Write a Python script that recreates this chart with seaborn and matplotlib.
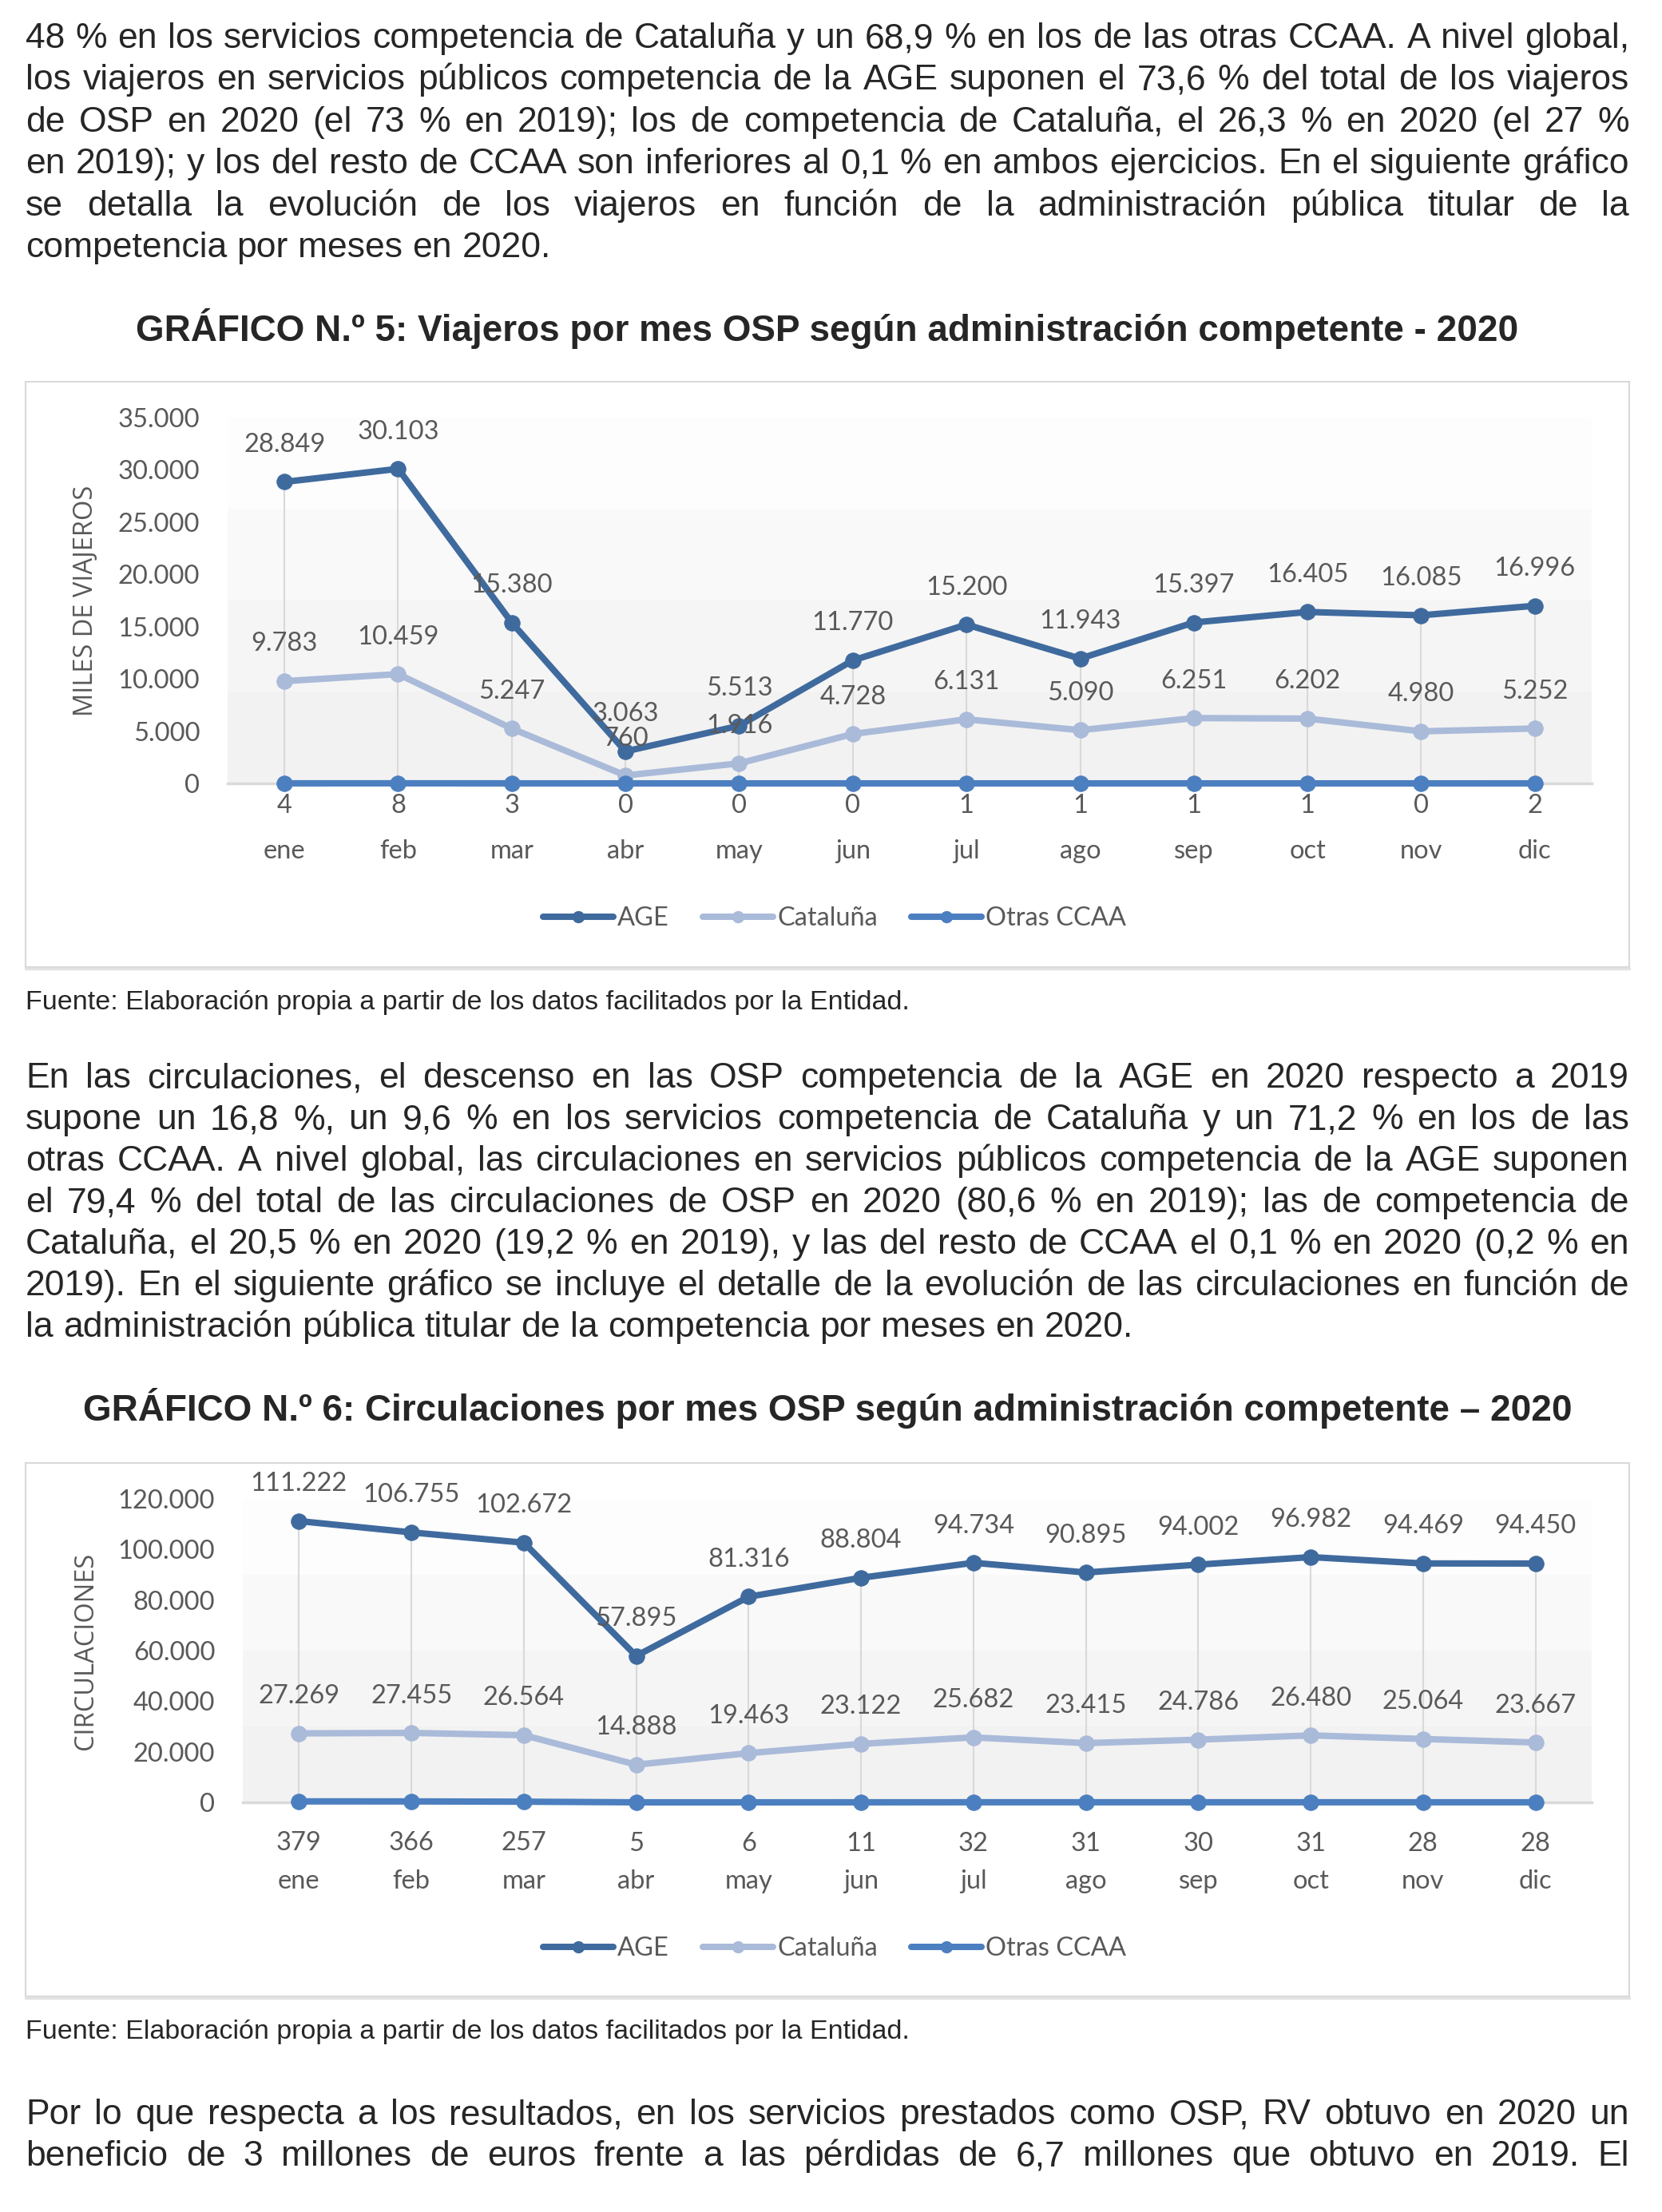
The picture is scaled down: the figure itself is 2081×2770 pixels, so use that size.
import numpy as np
import pandas as pd
import matplotlib
matplotlib.use('Agg')
import matplotlib.pyplot as plt
import seaborn as sns
from matplotlib.patches import Rectangle
from matplotlib.lines import Line2D
from matplotlib import font_manager
from matplotlib.ticker import FuncFormatter

W, H = 2081, 2770

# ---- datos ----
meses = ['ene', 'feb', 'mar', 'abr', 'may', 'jun', 'jul', 'ago', 'sep', 'oct', 'nov', 'dic']
series = ['AGE', 'Cataluña', 'Otras CCAA']
colores = ['#3f6a9e', '#aabad9', '#4c7fbf']

viajeros_age = [28849, 30103, 15380, 3063, 5513, 11770, 15200, 11943, 15397, 16405, 16085, 16996]
viajeros_cat = [9783, 10459, 5247, 760, 1916, 4728, 6131, 5090, 6251, 6202, 4980, 5252]
viajeros_otras = [4, 8, 3, 0, 0, 0, 1, 1, 1, 1, 0, 2]

circ_age = [111222, 106755, 102672, 57895, 81316, 88804, 94734, 90895, 94002, 96982, 94469, 94450]
circ_cat = [27269, 27455, 26564, 14888, 19463, 23122, 25682, 23415, 24786, 26480, 25064, 23667]
circ_otras = [379, 366, 257, 5, 6, 11, 32, 31, 30, 31, 28, 28]

parrafo1 = [
    "48 % en los servicios competencia de Cataluña y un 68,9 % en los de las otras CCAA. A nivel global,",
    "los viajeros en servicios públicos competencia de la AGE suponen el 73,6 % del total de los viajeros",
    "de OSP en 2020 (el 73 % en 2019); los de competencia de Cataluña, el 26,3 % en 2020 (el 27 %",
    "en 2019); y los del resto de CCAA son inferiores al 0,1 % en ambos ejercicios. En el siguiente gráfico",
    "se detalla la evolución de los viajeros en función de la administración pública titular de la",
    "competencia por meses en 2020.",
]
parrafo2 = [
    "En las circulaciones, el descenso en las OSP competencia de la AGE en 2020 respecto a 2019",
    "supone un 16,8 %, un 9,6 % en los servicios competencia de Cataluña y un 71,2 % en los de las",
    "otras CCAA. A nivel global, las circulaciones en servicios públicos competencia de la AGE suponen",
    "el 79,4 % del total de las circulaciones de OSP en 2020 (80,6 % en 2019); las de competencia de",
    "Cataluña, el 20,5 % en 2020 (19,2 % en 2019), y las del resto de CCAA el 0,1 % en 2020 (0,2 % en",
    "2019). En el siguiente gráfico se incluye el detalle de la evolución de las circulaciones en función de",
    "la administración pública titular de la competencia por meses en 2020.",
]
parrafo3 = [
    "Por lo que respecta a los resultados, en los servicios prestados como OSP, RV obtuvo en 2020 un",
    "beneficio de 3 millones de euros frente a las pérdidas de 6,7 millones que obtuvo en 2019. El",
]
titulo1 = "GRÁFICO N.º 5: Viajeros por mes OSP según administración competente - 2020"
titulo2 = "GRÁFICO N.º 6: Circulaciones por mes OSP según administración competente – 2020"
fuente = "Fuente: Elaboración propia a partir de los datos facilitados por la Entidad."

# ---- estilo ----
sns.set_style('white')
plt.rcParams['font.family'] = ['Lato', 'DejaVu Sans']
GRIS = '#595959'
BODY = 'Liberation Sans'
disponibles = {f.name for f in font_manager.fontManager.ttflist}
if 'Liberation Sans Narrow' in disponibles:
    font_fuente, size_fuente = 'Liberation Sans Narrow', 26
else:
    font_fuente, size_fuente = BODY, 24.5

fig = plt.figure(figsize=(W / 100, H / 100), dpi=100)
renderer = fig.canvas.get_renderer()


def fx(px):
    return px / W


def fy(py):
    return 1 - py / H


def miles(v, pos=None):
    return f'{v:,.0f}'.replace(',', '.')


def justificar(lineas, base, paso, ultima_libre=True, x0=32, x1=2040, size=32):
    espacio = 0.278 * size * 100 / 72
    for k, linea in enumerate(lineas):
        y = fy(base + k * paso)
        palabras = linea.split(' ')
        arts = [fig.text(0, y, p, fontsize=size, family=BODY, va='baseline') for p in palabras]
        anchos = [a.get_window_extent(renderer).width for a in arts]
        if ultima_libre and k == len(lineas) - 1:
            gap = espacio
        else:
            gap = (x1 - x0 - sum(anchos)) / (len(palabras) - 1)
        x = x0
        for a, w in zip(arts, anchos):
            a.set_x(fx(x))
            x += w + gap


def caja(top, bottom):
    fig.add_artist(Rectangle((fx(32), fy(bottom)), (2040 - 32) / W, (bottom - top) / H,
                             transform=fig.transFigure, fill=False, ec='#d9d9d9', lw=1.5))
    fig.add_artist(Line2D([fx(32), fx(2040)], [fy(bottom + 2)] * 2, transform=fig.transFigure,
                          color='#e2e2e2', lw=2.5))


def grafico(top, bottom, left, right, valores, ymax, paso, ylabel, off_otras, off_mes, ley_y):
    ax = fig.add_axes([fx(left), fy(bottom), (right - left) / W, (bottom - top) / H])
    # bandas de fondo (degradado)
    for i, c in enumerate(['#f2f2f2', '#f5f5f5', '#f9f9f9', '#fdfdfd']):
        ax.add_patch(Rectangle((0, i / 4), 1, 0.25, transform=ax.transAxes, color=c, zorder=0, lw=0))
    pos = np.arange(len(meses))
    df = pd.DataFrame({
        'pos': np.tile(pos, 3),
        'valor': np.concatenate(valores),
        'serie': np.repeat(series, len(meses)),
    })
    # lineas de unión con el eje
    ax.vlines(pos, 0, np.max(valores, axis=0), color='#d9d9d9', lw=1.5, zorder=1)
    sns.lineplot(data=df, x='pos', y='valor', hue='serie', hue_order=series,
                 palette=dict(zip(series, colores)), marker='o', markersize=14,
                 linewidth=5.8, errorbar=None, legend=False, ax=ax, zorder=3)
    for ln in ax.lines:
        ln.set_markeredgecolor(ln.get_color())
        ln.set_solid_capstyle('round')
        ln.set_clip_on(False)
    ax.set_xlim(-0.5, len(meses) - 0.5)
    ax.set_ylim(0, ymax)
    ax.set_yticks(np.arange(0, ymax + 1, paso))
    ax.yaxis.set_major_formatter(FuncFormatter(miles))
    ax.set_xticks([])
    ax.set_xlabel('')
    ax.tick_params(axis='y', length=0, pad=25, labelsize=23.5, labelcolor=GRIS)
    ax.set_ylabel(ylabel, family='Open Sans', fontsize=23.5, color=GRIS, va='center')
    ax.yaxis.set_label_coords((108 - left) / (right - left), 0.5)
    for s in ['top', 'right', 'left']:
        ax.spines[s].set_visible(False)
    ax.spines['bottom'].set_color('#d9d9d9')
    ax.spines['bottom'].set_linewidth(2.5)
    ax.spines['bottom'].set_zorder(2)
    ax.set_facecolor('white')

    kw = dict(textcoords='offset points', ha='center', va='baseline', color=GRIS,
              fontsize=23.5, annotation_clip=False, zorder=5)
    for serie_vals, off in zip(valores, [27, 27, off_otras]):
        for i, v in enumerate(serie_vals):
            ax.annotate(miles(v), (i, v), xytext=(0, off), **kw)
    for i, m in enumerate(meses):
        ax.annotate(m, (i, 0), xycoords=('data', 'axes fraction'), xytext=(0, off_mes), **kw)

    handles = [Line2D([], [], color=c, lw=5.8, marker='o', markersize=10) for c in colores]
    fig.legend(handles, series, loc='center', bbox_to_anchor=(fx(1045), fy(ley_y)), ncol=3,
               frameon=False, handlelength=2.7, handletextpad=0.15, columnspacing=1.3,
               fontsize=23.5, labelcolor=GRIS)
    return ax


# ---- texto ----
justificar(parrafo1, 60, 52.4)
justificar(parrafo2, 1362, 52)
justificar(parrafo3, 2660, 52, ultima_libre=False)

fig.text(fx(1036), fy(427), titulo1, fontsize=33, family=BODY, weight='bold', ha='center', va='baseline')
fig.text(fx(1036), fy(1779), titulo2, fontsize=33, family=BODY, weight='bold', ha='center', va='baseline')

# ---- gráficos ----
caja(478, 1211)
grafico(523, 981, 285, 1993, [viajeros_age, viajeros_cat, viajeros_otras], 35000, 5000,
        'MILES DE VIAJEROS', -27, -68, 1150)
fig.text(fx(32), fy(1264), fuente, fontsize=size_fuente, family=font_fuente, va='baseline')

caja(1832, 2500)
grafico(1877, 2257, 304, 1993, [circ_age, circ_cat, circ_otras], 120000, 20000,
        'CIRCULACIONES', -44, -78, 2440)
fig.text(fx(32), fy(2553), fuente, fontsize=size_fuente, family=font_fuente, va='baseline')

fig.savefig('out.png', dpi=100, facecolor='white')
